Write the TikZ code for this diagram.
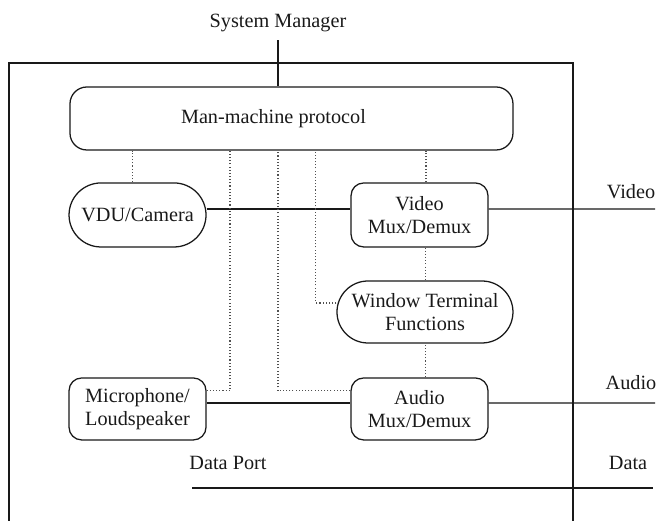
\documentclass[tikz,border=0pt]{standalone}
\usepackage{fontspec}
\setmainfont{Liberation Serif}
\usepackage{tikz}
\usetikzlibrary{shapes.misc, positioning, calc}
\definecolor{inkblack}{RGB}{25, 25, 25}
\definecolor{dotgray}{RGB}{80, 80, 80}

\begin{document}
\begin{tikzpicture}[
    font=\fontsize{9.6}{11}\selectfont,
    every node/.style={inner sep=0pt, text=inkblack},
    blockbox/.style={draw=inkblack, line width=0.6pt, rounded corners=6pt,
        minimum width=2.283cm, minimum height=1.05cm, align=center},
    pillbox/.style={draw=inkblack, line width=0.6pt, rounded rectangle,
        minimum height=1.05cm, align=center},
    wire/.style={draw=inkblack, line width=0.6pt},
    ctrl/.style={draw=dotgray, densely dotted, line width=0.5pt}
]
    \useasboundingbox (0, 0) rectangle (11, 8.683);

    % Terminal frame, open at the bottom
    \draw[wire] (0.15, 0) -- (0.15, 7.633) -- (9.55, 7.633) -- (9.55, 0);

    % Protocol block and system manager
    \node[blockbox, minimum width=7.383cm, rounded corners=8pt] (proto)
        at (4.858, 6.708) {Man-machine protocol\hspace*{0.6cm}};
    \node[inner ysep=3.8pt] (sysmgr) at (4.633, 8.3) {System Manager};
    \draw[wire] (sysmgr.south) -- (sysmgr.south |- proto.north);

    % Devices and multiplexers
    \node[pillbox, minimum width=2.283cm, minimum height=1.067cm] (vdu)
        at (2.292, 5.1) {VDU/Camera};
    \node[blockbox, minimum height=1.067cm] (vmux) at (6.992, 5.1) {Video\\Mux/Demux};
    \node[pillbox, minimum width=2.933cm, minimum height=1.033cm] (wtf)
        at (7.083, 3.483) {Window Terminal\\Functions};
    \node[blockbox, minimum height=1.033cm] (mic) at (2.292, 1.867) {Microphone/\\Loudspeaker};
    \node[blockbox, minimum height=1.033cm] (amux) at (6.992, 1.867) {Audio\\Mux/Demux};

    % Outside ports
    \coordinate (videoend) at (10.917, 5.2);
    \coordinate (audioend) at (10.917, 1.967);
    \coordinate (datastart) at (3.2, 0.55);
    \coordinate (dataend) at (10.883, 0.55);
    \node (videolbl) at (10.517, 5.483) {Video};
    \node (audiolbl) at (10.517, 2.3) {Audio};
    \node (dataportlbl) at (3.8, 0.967) {Data Port};
    \node (datalbl) at (10.467, 0.967) {Data};

    % Signal paths
    \draw[wire] ([yshift=0.1cm]vdu.east) -- ([yshift=0.1cm]vmux.west);
    \draw[wire] ([yshift=0.1cm]vmux.east) -- (videoend);
    \draw[wire] ([yshift=0.1cm]mic.east) -- ([yshift=0.1cm]amux.west);
    \draw[wire] ([yshift=0.1cm]amux.east) -- (audioend);
    \draw[wire] (datastart) -- (dataend);

    % Control paths from the protocol
    \draw[ctrl] ([xshift=-0.09cm]vdu.north) -- ([xshift=-0.09cm]vdu.north |- proto.south);
    \draw[ctrl] ([yshift=0.3cm]mic.east) -| ([xshift=-1.025cm]proto.south);
    \draw[ctrl] ([yshift=0.3cm]amux.west) -| ([xshift=-0.225cm]proto.south);
    \draw[ctrl] ([yshift=0.15cm]wtf.west) -| ([xshift=0.408cm]proto.south);
    \draw[ctrl] ([xshift=0.108cm]vmux.north) -- ([xshift=0.108cm]vmux.north |- proto.south);
    \draw[ctrl] ([xshift=0.1cm]vmux.south) -- ([xshift=0.1cm]vmux.south |- wtf.north);
    \draw[ctrl] ([xshift=0.1cm]amux.north) -- ([xshift=0.1cm]amux.north |- wtf.south);
\end{tikzpicture}
\end{document}
